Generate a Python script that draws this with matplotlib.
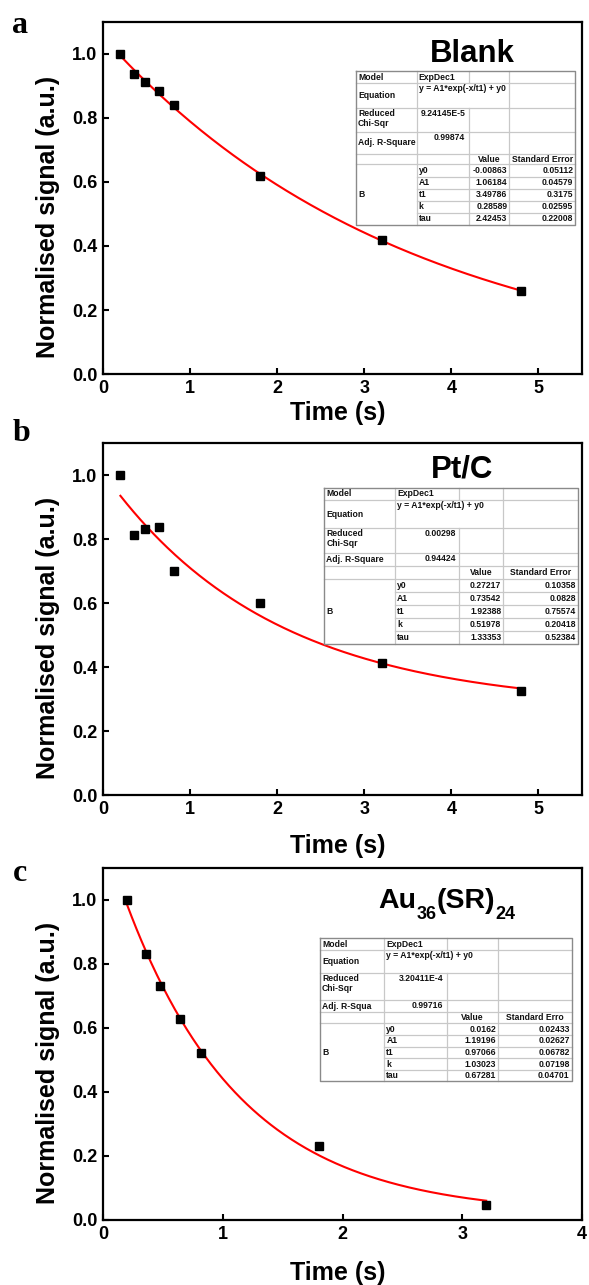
import numpy as np
import matplotlib
matplotlib.use("Agg")
import matplotlib.pyplot as plt

plt.rcParams['font.family'] = ['Liberation Sans', 'DejaVu Sans']

# ---------------- data ----------------
time_a = [0.2, 0.36, 0.48, 0.64, 0.82, 1.8, 3.2, 4.8]
signal_a = [1.0, 0.938, 0.912, 0.883, 0.842, 0.618, 0.42, 0.259]
time_b = [0.2, 0.36, 0.48, 0.64, 0.82, 1.8, 3.2, 4.8]
signal_b = [1.0, 0.813, 0.831, 0.838, 0.70, 0.599, 0.412, 0.325]
time_c = [0.2, 0.36, 0.48, 0.64, 0.82, 1.8, 3.2]
signal_c = [1.0, 0.832, 0.732, 0.629, 0.522, 0.231, 0.047]

# ExpDec1 fit parameters (y0, A1, t1)
fit_a = (-0.00863, 1.06184, 3.49786)
fit_b = (0.27217, 0.73542, 1.92388)
fit_c = (0.0162, 1.19196, 0.97066)

titles = ["Blank", "Pt/C", None]
title_c_parts = [("Au", False), ("36", True), ("(SR)", False), ("24", True)]
panel_letters = ["a", "b", "c"]
xmax = [5.5, 5.5, 4.0]
xticks_list = [[0, 1, 2, 3, 4, 5], [0, 1, 2, 3, 4, 5], [0, 1, 2, 3, 4]]
yticks = [0.0, 0.2, 0.4, 0.6, 0.8, 1.0]

chi_a, r2_a = "9.24145E-5", "0.99874"
chi_b, r2_b = "0.00298", "0.94424"
chi_c, r2_c = "3.20411E-4", "0.99716"
r2_label = ["Adj. R-Square", "Adj. R-Square", "Adj. R-Squa"]
se_header = ["Standard Error", "Standard Error", "Standard Erro"]
param_names = ["y0", "A1", "t1", "k", "tau"]
values_a = ["-0.00863", "1.06184", "3.49786", "0.28589", "2.42453"]
errors_a = ["0.05112", "0.04579", "0.3175", "0.02595", "0.22008"]
values_b = ["0.27217", "0.73542", "1.92388", "0.51978", "1.33353"]
errors_b = ["0.10358", "0.0828", "0.75574", "0.20418", "0.52384"]
values_c = ["0.0162", "1.19196", "0.97066", "1.03023", "0.67281"]
errors_c = ["0.02433", "0.02627", "0.06782", "0.07198", "0.04701"]

# ---------------- layout (pixels) ----------------
W, H = 589, 1285
fig = plt.figure(figsize=(W / 100, H / 100), dpi=100)
renderer = fig.canvas.get_renderer()

ax_px = [(103, 582, 22, 374), (103, 582, 443, 795), (103, 582, 868, 1220)]
title_pos = [(0.772, 0.886), (0.749, 0.903), (0.718, 0.886)]
xlabel_y = [-0.11, -0.145, -0.15]
letter_pos = [(12, 33), (13, 441), (13, 881)]

table_cols = [
    [356, 416.7, 468.7, 509.3, 575.3],
    [324.3, 395, 459.3, 503.3, 578.3],
    [320, 384.3, 446.7, 498.3, 571.7],
]
table_rows = [
    [70.7, 83.3, 107.7, 131.7, 154, 164, 176.7, 188.7, 200.7, 212.7, 225],
    [487.7, 500, 528.3, 553.3, 566, 579, 592.3, 605, 618.3, 631, 644],
    [938.3, 950, 973.3, 1000, 1012.3, 1023.3, 1035, 1046.7, 1058.3, 1070, 1081],
]

datasets = [
    (time_a, signal_a, fit_a, chi_a, r2_a, values_a, errors_a),
    (time_b, signal_b, fit_b, chi_b, r2_b, values_b, errors_b),
    (time_c, signal_c, fit_c, chi_c, r2_c, values_c, errors_c),
]


def draw_table(cols, rows, chi, r2, r2lab, sehead, vals, errs):
    x0, x1 = cols[0], cols[-1]
    y0, y1 = rows[0], rows[-1]
    t = fig.add_axes([x0 / W, 1 - y1 / H, (x1 - x0) / W, (y1 - y0) / H])
    t.set_xlim(x0, x1)
    t.set_ylim(y1, y0)
    t.axis('off')
    t.patch.set_visible(False)
    lc = '#c8c8c8'
    lw = 0.9
    for i, y in enumerate(rows[1:-1], start=1):
        xs = cols[1] if i >= 6 else cols[0]
        t.plot([xs, x1], [y, y], color=lc, lw=lw, clip_on=False)
    t.plot([cols[1], cols[1]], [y0, y1], color=lc, lw=lw, clip_on=False)
    t.plot([cols[2], cols[2]], [y0, rows[1]], color=lc, lw=lw, clip_on=False)
    t.plot([cols[2], cols[2]], [rows[2], y1], color=lc, lw=lw, clip_on=False)
    t.plot([cols[3], cols[3]], [y0, y1], color=lc, lw=lw, clip_on=False)
    t.plot([x0, x1, x1, x0, x0], [y0, y0, y1, y1, y0], color='#8a8a8a',
           lw=1.0, clip_on=False)
    fs = 6.2
    kw = dict(fontsize=fs, fontweight='bold', color='#111111')
    pad = 2.0
    t.text(x0 + pad, (rows[0] + rows[1]) / 2, "Model", va='center', **kw)
    t.text(cols[1] + pad, (rows[0] + rows[1]) / 2, "ExpDec1", va='center', **kw)
    t.text(x0 + pad, (rows[1] + rows[2]) / 2, "Equation", va='center', **kw)
    t.text(cols[1] + pad, rows[1] + 1, "y = A1*exp(-x/t1) + y0", va='top', **kw)
    t.text(x0 + pad, rows[2] + 1, "Reduced\nChi-Sqr", va='top',
           linespacing=1.15, **kw)
    t.text(cols[2] - 3.5, rows[2] + 1, chi, va='top', ha='right', **kw)
    t.text(x0 + pad, (rows[3] + rows[4]) / 2, r2lab, va='center', **kw)
    t.text(cols[2] - 3.5, rows[3] + 1, r2, va='top', ha='right', **kw)
    t.text((cols[2] + cols[3]) / 2, (rows[4] + rows[5]) / 2, "Value",
           va='center', ha='center', **kw)
    t.text((cols[3] + cols[4]) / 2, (rows[4] + rows[5]) / 2, sehead,
           va='center', ha='center', **kw)
    t.text(x0 + pad, (rows[5] + rows[10]) / 2, "B", va='center', **kw)
    for k in range(5):
        yc = (rows[5 + k] + rows[6 + k]) / 2
        t.text(cols[1] + pad, yc, param_names[k], va='center', **kw)
        t.text(cols[3] - pad, yc, vals[k], va='center', ha='right', **kw)
        t.text(cols[4] - pad, yc, errs[k], va='center', ha='right', **kw)


def draw_sub_title(parts, center_x, baseline_y, main_size=20.5, sub_size=13,
                   sub_drop=11):
    # measure
    widths = []
    for txt, sub in parts:
        tt = fig.text(0, 0, txt, fontsize=sub_size if sub else main_size,
                      fontweight='bold')
        widths.append(tt.get_window_extent(renderer).width)
        tt.remove()
    x = center_x - sum(widths) / 2
    for (txt, sub), w in zip(parts, widths):
        yb = baseline_y + (sub_drop if sub else 0)
        fig.text(x / W, 1 - yb / H, txt, fontsize=sub_size if sub else main_size,
                 fontweight='bold', va='baseline', ha='left')
        x += w


for i, (tx, sy, fit, chi, r2, vals, errs) in enumerate(datasets):
    l, r, tp, bt = ax_px[i]
    ax = fig.add_axes([l / W, 1 - bt / H, (r - l) / W, (bt - tp) / H])
    yy0, A1, t1 = fit
    xf = np.linspace(min(tx), max(tx), 300)
    ax.plot(xf, A1 * np.exp(-xf / t1) + yy0, color='#ff0000', lw=1.5, zorder=2)
    ax.plot(tx, sy, 's', color='black', markersize=6, zorder=3)
    ax.set_xlim(0, xmax[i])
    ax.set_ylim(0, 1.1)
    ax.set_xticks(xticks_list[i])
    ax.set_yticks(yticks)
    ax.set_xticklabels([str(v) for v in xticks_list[i]])
    ax.set_yticklabels([f"{v:.1f}" for v in yticks])
    for s in ax.spines.values():
        s.set_linewidth(1.6)
    ax.tick_params(axis='both', direction='in', length=4.5, width=1.5,
                   labelsize=13, pad=4, top=False, right=False)
    for lab in ax.get_xticklabels() + ax.get_yticklabels():
        lab.set_fontweight('bold')
    ax.set_xlabel("Time (s)", fontsize=18, fontweight='bold')
    ax.xaxis.set_label_coords(0.49, xlabel_y[i])
    ax.xaxis.label.set_va('center')
    ax.set_ylabel("Normalised signal (a.u.)", fontsize=18, fontweight='bold')
    ax.yaxis.set_label_coords(-0.115, 0.445)
    ax.yaxis.label.set_va('center')
    if titles[i] is not None:
        ax.text(title_pos[i][0], title_pos[i][1], titles[i],
                transform=ax.transAxes, fontsize=22.5, fontweight='bold',
                ha='center', va='baseline')
    else:
        draw_sub_title(title_c_parts, 447, 908)
    fig.text(letter_pos[i][0] / W, 1 - letter_pos[i][1] / H, panel_letters[i],
             fontsize=23, fontweight='bold', family='Liberation Serif',
             va='baseline', ha='left')
    draw_table(table_cols[i], table_rows[i], chi, r2, r2_label[i],
               se_header[i], vals, errs)

fig.savefig("out.png", dpi=100)
